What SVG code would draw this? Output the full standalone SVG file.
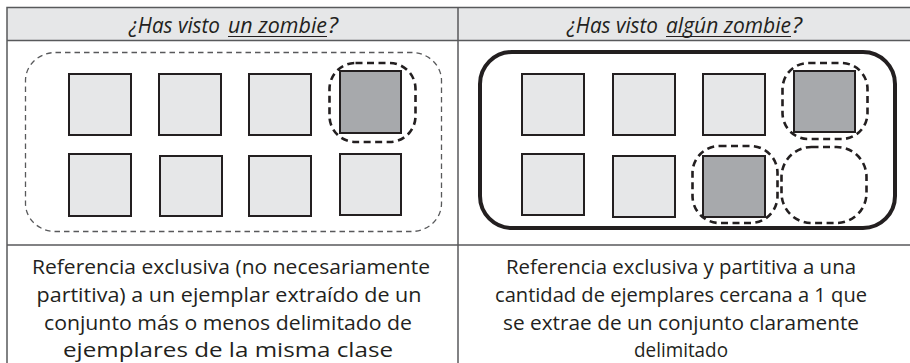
<svg xmlns="http://www.w3.org/2000/svg" width="910" height="363" viewBox="0 0 910 363">
<style>
.grid{fill:none;stroke:#58595b;stroke-width:1.5}
.hdr{fill:#e6e7e8}
.sq{fill:#e6e7e8;stroke:#231f20;stroke-width:2}
.dk{fill:#a7a9ac;stroke:#231f20;stroke-width:2}
.blob{fill:none;stroke:#231f20;stroke-width:2.6;stroke-dasharray:7 4.5}
.set{fill:none;stroke:#58595b;stroke-width:1.3;stroke-dasharray:5.5 4}
.setb{fill:none;stroke:#231f20;stroke-width:4}
.h{font-family:"Open Sans","Liberation Sans",sans-serif;font-style:italic;font-size:21px;fill:#231f20}
.ul{stroke:#231f20;stroke-width:1.2}
.t{font-family:"Open Sans","Liberation Sans",sans-serif;font-size:20.5px;fill:#231f20;text-anchor:middle}
</style>
<g id="table">
<rect class="hdr" x="7" y="7.5" width="904" height="33"/>
<rect class="grid" x="7" y="7.5" width="904" height="360"/>
<line class="grid" x1="7" y1="40.5" x2="911" y2="40.5"/>
<line class="grid" x1="7" y1="245" x2="911" y2="245"/>
<line class="grid" x1="458" y1="7.5" x2="458" y2="363"/>
</g>
<g id="header-left">
<text class="h" x="129" y="33" textLength="91" lengthAdjust="spacingAndGlyphs">¿Has visto</text>
<text class="h" x="228" y="33" textLength="99" lengthAdjust="spacingAndGlyphs">un zombie</text>
<text class="h" x="328" y="33" textLength="10" lengthAdjust="spacingAndGlyphs">?</text>
<line class="ul" x1="228" y1="36.5" x2="327" y2="36.5"/>
</g>
<g id="header-right">
<text class="h" x="567" y="33" textLength="91" lengthAdjust="spacingAndGlyphs">¿Has visto</text>
<text class="h" x="666" y="33" textLength="125" lengthAdjust="spacingAndGlyphs">algún zombie</text>
<text class="h" x="792" y="33" textLength="10" lengthAdjust="spacingAndGlyphs">?</text>
<line class="ul" x1="666" y1="36.5" x2="791" y2="36.5"/>
</g>
<g id="set-left">
<rect class="set" x="25.5" y="52.5" width="416" height="179" rx="30" ry="28"/>
</g>
<g id="squares-left">
<rect class="sq" x="69" y="74" width="62" height="61"/>
<rect class="sq" x="159" y="74" width="62" height="61"/>
<rect class="sq" x="249" y="74" width="62" height="61"/>
<rect class="dk" x="340" y="71" width="61" height="62"/>
<rect class="sq" x="69" y="154" width="62" height="62"/>
<rect class="sq" x="160" y="156" width="62" height="60"/>
<rect class="sq" x="249" y="156" width="62" height="60"/>
<rect class="sq" x="340" y="154" width="61" height="61"/>
</g>
<g id="selection-left">
<rect class="blob" x="329.5" y="63" width="86" height="79" rx="26" ry="26"/>
</g>
<g id="set-right">
<rect class="setb" x="480" y="52" width="415" height="176" rx="32" ry="32"/>
</g>
<g id="squares-right">
<rect class="sq" x="522" y="74" width="62" height="61"/>
<rect class="sq" x="613" y="74" width="62" height="61"/>
<rect class="sq" x="703" y="74" width="62" height="61"/>
<rect class="dk" x="794" y="71" width="61" height="61"/>
<rect class="sq" x="522" y="154" width="62" height="61"/>
<rect class="sq" x="613" y="156" width="62" height="61"/>
<rect class="dk" x="703" y="156" width="62" height="61"/>
</g>
<g id="selection-right">
<rect class="blob" x="782.5" y="63" width="85" height="76" rx="26" ry="26"/>
<rect class="blob" x="692.5" y="146" width="85" height="77" rx="27" ry="27"/>
<rect class="blob" x="781.5" y="147" width="85" height="76" rx="30" ry="30"/>
</g>
<g id="connectors"/>
<g id="caption-left">
<text class="t" x="231" y="274" textLength="398" lengthAdjust="spacingAndGlyphs">Referencia exclusiva (no necesariamente</text>
<text class="t" x="229" y="302" textLength="385" lengthAdjust="spacingAndGlyphs">partitiva) a un ejemplar extraído de un</text>
<text class="t" x="228" y="330" textLength="368" lengthAdjust="spacingAndGlyphs">conjunto más o menos delimitado de</text>
<text class="t" x="228" y="357" textLength="330" lengthAdjust="spacingAndGlyphs">ejemplares de la misma clase</text>
</g>
<g id="caption-right">
<text class="t" x="681" y="274" textLength="350" lengthAdjust="spacingAndGlyphs">Referencia exclusiva y partitiva a una</text>
<text class="t" x="681" y="302" textLength="372" lengthAdjust="spacingAndGlyphs">cantidad de ejemplares cercana a 1 que</text>
<text class="t" x="681" y="330" textLength="356" lengthAdjust="spacingAndGlyphs">se extrae de un conjunto claramente</text>
<text class="t" x="681" y="357" textLength="94" lengthAdjust="spacingAndGlyphs">delimitado</text>
</g>
</svg>
